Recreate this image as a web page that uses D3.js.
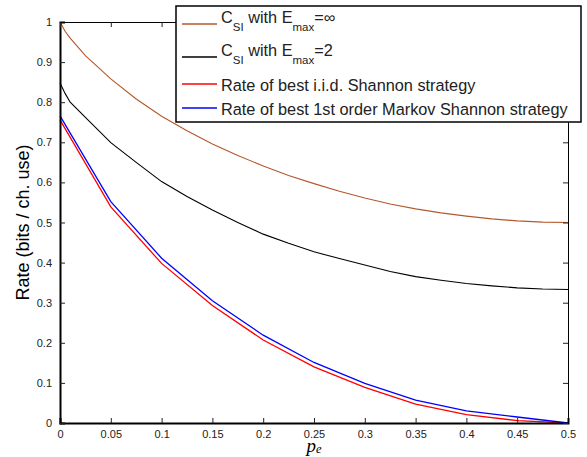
<!DOCTYPE html>
<html>
<head>
<meta charset="utf-8">
<script src="https://d3js.org/d3.v7.min.js"></script>
<style>
  body { margin: 0; background: #fff; }
  svg { display: block; font-family: "Liberation Sans", Arial, sans-serif; }
</style>
</head>
<body>
<svg id="chart"></svg>
<script>
// p_e samples (fine for the capacity curves, 0.05 steps for the strategies)
const peFine = [0, 0.005, 0.01, 0.025, 0.05, 0.075, 0.1, 0.125, 0.15, 0.175, 0.2, 0.225,
  0.25, 0.275, 0.3, 0.325, 0.35, 0.375, 0.4, 0.425, 0.45, 0.475, 0.5];
const peCoarse = [0, 0.05, 0.1, 0.15, 0.2, 0.25, 0.3, 0.35, 0.4, 0.45, 0.5];

const csiInf = [1, 0.977, 0.96, 0.916, 0.858, 0.808, 0.765, 0.729, 0.696, 0.667, 0.641, 0.617,
  0.597, 0.578, 0.561, 0.546, 0.534, 0.524, 0.516, 0.509, 0.504, 0.501, 0.5];
const csi2 = [0.848, 0.822, 0.8, 0.762, 0.699, 0.65, 0.602, 0.565, 0.531, 0.5, 0.471, 0.448,
  0.427, 0.41, 0.394, 0.378, 0.365, 0.356, 0.348, 0.342, 0.337, 0.334, 0.333];
const rateIid = [0.756, 0.539, 0.398, 0.293, 0.207, 0.140, 0.089, 0.047, 0.021, 0.006, 0];
const rateMarkov = [0.766, 0.552, 0.411, 0.305, 0.219, 0.151, 0.099, 0.057, 0.030, 0.015, 0];

const xTicks = [0, 0.05, 0.1, 0.15, 0.2, 0.25, 0.3, 0.35, 0.4, 0.45, 0.5];
const yTicks = [0, 0.1, 0.2, 0.3, 0.4, 0.5, 0.6, 0.7, 0.8, 0.9, 1];

(function() {
  const width = 587;
  const height = 457;
  const margin = {left: 60, right: 19, top: 22, bottom: 34};

  const svg = d3.select("#chart")
      .attr("width", width)
      .attr("height", height);

  const x = d3.scaleLinear().domain([0, 0.5]).range([margin.left, width - margin.right]);
  const y = d3.scaleLinear().domain([0, 1]).range([height - margin.bottom, margin.top]);

  const series = [
    {name: "inf", xs: peFine, ys: csiInf, color: "#b5582b", w: 1.1},
    {name: "two", xs: peFine, ys: csi2, color: "#000000", w: 1.1},
    {name: "iid", xs: peCoarse, ys: rateIid, color: "#ff0000", w: 1.3},
    {name: "markov", xs: peCoarse, ys: rateMarkov, color: "#0000ff", w: 1.3}
  ];

  const line = d3.line()
      .x(d => x(d[0]))
      .y(d => y(d[1]));

  svg.append("g").selectAll("path")
    .data(series)
    .enter()
    .append("path")
      .attr("d", s => line(s.xs.map((v, i) => [v, s.ys[i]])))
      .attr("fill", "none")
      .attr("stroke", s => s.color)
      .attr("stroke-width", s => s.w);

  // axes with inward ticks, matlab box style
  const tickLen = 5;
  const fmt = d => String(+d.toFixed(2));
  const bottom = svg.append("g")
      .attr("transform", `translate(0,${y(0)})`)
      .call(d3.axisBottom(x).tickValues(xTicks).tickSize(-tickLen).tickPadding(7).tickFormat(fmt));
  const left = svg.append("g")
      .attr("transform", `translate(${x(0)},0)`)
      .call(d3.axisLeft(y).tickValues(yTicks).tickSize(-tickLen).tickPadding(8).tickFormat(fmt));
  svg.append("g")
      .attr("transform", `translate(0,${y(1)})`)
      .call(d3.axisTop(x).tickValues(xTicks).tickSize(-tickLen).tickFormat(""));
  svg.append("g")
      .attr("transform", `translate(${x(0.5)},0)`)
      .call(d3.axisRight(y).tickValues(yTicks).tickSize(-tickLen).tickFormat(""));

  svg.selectAll(".domain").attr("stroke", "#000").attr("stroke-width", 1);
  bottom.select(".domain").attr("stroke-width", 2);
  left.select(".domain").attr("stroke-width", 2);
  svg.selectAll(".tick line").attr("stroke", "#222");
  svg.selectAll(".tick text")
      .attr("font-family", "'Liberation Sans', Arial, sans-serif")
      .attr("font-size", 11)
      .attr("fill", "#222");

  // axis titles
  svg.append("text")
      .attr("transform", `translate(29,${(y(0) + y(1)) / 2}) rotate(-90)`)
      .attr("text-anchor", "middle")
      .attr("font-size", 18)
      .text("Rate (bits / ch. use)");

  const xl = svg.append("text")
      .attr("x", (x(0) + x(0.5)) / 2)
      .attr("y", 452)
      .attr("text-anchor", "middle")
      .attr("font-family", "'Liberation Serif', 'DejaVu Serif', serif")
      .attr("font-style", "italic")
      .attr("font-size", 19);
  xl.append("tspan").text("p");
  xl.append("tspan").attr("font-size", 12.5).attr("dy", 1).text("e");

  // legend
  const lg = svg.append("g");
  lg.append("rect")
      .attr("x", 176).attr("y", 6)
      .attr("width", 405).attr("height", 116)
      .attr("fill", "#fff")
      .attr("stroke", "#000")
      .attr("stroke-width", 1.5);

  const entries = [
    {y: 24, color: series[0].color, parts: [["C", 0], ["SI", 1], [" with E", 0], ["max", 1], ["=∞", 0]], base: -1},
    {y: 57, color: series[1].color, parts: [["C", 0], ["SI", 1], [" with E", 0], ["max", 1], ["=2", 0]], base: -1},
    {y: 84, color: series[2].color, parts: [["Rate of best i.i.d. Shannon strategy", 0]], base: 6.5},
    {y: 108, color: series[3].color, parts: [["Rate of best 1st order Markov Shannon strategy", 0]], base: 6.5}
  ];

  entries.forEach(e => {
    lg.append("line")
        .attr("x1", 182).attr("x2", 217)
        .attr("y1", e.y).attr("y2", e.y)
        .attr("stroke", e.color)
        .attr("stroke-width", 1.3);
    const t = lg.append("text")
        .attr("x", 221)
        .attr("y", e.y + e.base)
        .attr("font-size", 16.3)
        .attr("fill", "#222");
    let sub = 0;
    e.parts.forEach(p => {
      const dy = (p[1] - sub) * 8;
      sub = p[1];
      t.append("tspan")
          .attr("dy", dy)
          .attr("font-size", p[1] ? 11.5 : 16.3)
          .text(p[0]);
    });
  });
})();
</script>
</body>
</html>
